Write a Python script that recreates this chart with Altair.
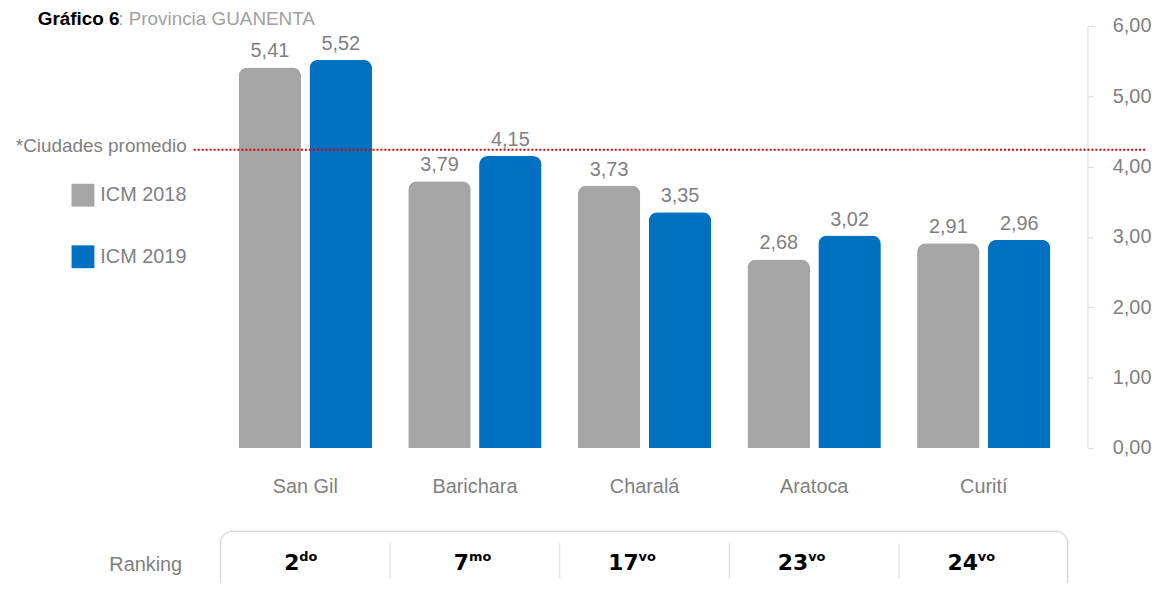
import altair as alt
import pandas as pd

# ---- data ----
categories = ["San Gil", "Barichara", "Charalá", "Aratoca", "Curití"]
icm_2018 = [5.41, 3.79, 3.73, 2.68, 2.91]
icm_2019 = [5.52, 4.15, 3.35, 3.02, 2.96]
series_names = ["ICM 2018", "ICM 2019"]
ranking_num = ["2", "7", "17", "23", "24"]
ranking_suf = ["do", "mo", "vo", "vo", "vo"]
promedio = 4.24
y_ticks = [0, 1, 2, 3, 4, 5, 6]

FONT = "Liberation Sans Narrow, Liberation Sans, Arial"
GRAY_TXT = "#7f7f7f"
COLORS = ["#a5a5a5", "#0070c0"]

rows = []
for c, a, b in zip(categories, icm_2018, icm_2019):
    rows.append({"category": c, "serie": series_names[0], "value": a})
    rows.append({"category": c, "serie": series_names[1], "value": b})
df = pd.DataFrame(rows)
rank_df = pd.DataFrame({"category": categories, "num": ranking_num, "suf": ranking_suf})
div_df = pd.DataFrame({"category": categories[1:]})
avg_df = pd.DataFrame({"value": [promedio], "label": ["*Ciudades promedio"]})
one = pd.DataFrame({"a": [0]})

x_scale = alt.Scale(domain=categories, range=[214, 1068], paddingInner=0, paddingOuter=0)
x_enc = alt.X("category:N", scale=x_scale,
              axis=alt.Axis(title=None, domain=False, ticks=False, labelAngle=0,
                            labelAlign="center", labelBaseline="top",
                            labelFontSize=20, labelFont=FONT, labelColor=GRAY_TXT,
                            labelPadding=29))
y_scale = alt.Scale(domain=[0, 6])
xoff = alt.XOffset("serie:N", scale=alt.Scale(domain=series_names, paddingInner=0, paddingOuter=0.197))

bars = alt.Chart(df).mark_bar(width=63, cornerRadiusTopLeft=9, cornerRadiusTopRight=9).encode(
    x=x_enc,
    xOffset=xoff,
    y=alt.Y("value:Q", scale=y_scale,
            axis=alt.Axis(orient="right", values=y_ticks, title=None, grid=False,
                          labelExpr="replace(format(datum.value, '.2f'), '.', ',')",
                          labelFontSize=20, labelFont=FONT, labelColor=GRAY_TXT,
                          domainColor="#d9d9d9", tickColor="#d9d9d9", tickSize=6,
                          labelPadding=19)),
    color=alt.Color("serie:N", scale=alt.Scale(domain=series_names, range=COLORS),
                    legend=alt.Legend(orient="none", legendX=64, legendY=159, title=None,
                                      symbolType="square", symbolSize=529, symbolStrokeWidth=0,
                                      symbolOpacity=1, labelFontSize=20, labelFont=FONT,
                                      labelColor=GRAY_TXT, rowPadding=39, labelOffset=6,
                                      padding=0)),
)

labels = alt.Chart(df).transform_calculate(
    txt="replace(format(datum.value, '.2f'), '.', ',')"
).mark_text(baseline="bottom", dy=-6, fontSize=20, font=FONT, color=GRAY_TXT).encode(
    x=alt.X("category:N", scale=x_scale),
    xOffset=xoff,
    y=alt.Y("value:Q", scale=y_scale),
    text="txt:N",
)

avg_line = alt.Chart(avg_df).mark_rule(color="#e00000", strokeDash=[2, 2], strokeWidth=2).encode(
    y=alt.Y("value:Q", scale=y_scale),
    x=alt.value(187),
    x2=alt.value(1147),
)
avg_text = alt.Chart(avg_df).mark_text(align="right", baseline="middle", dy=-4, fontSize=19,
                                       font=FONT, color=GRAY_TXT).encode(
    y=alt.Y("value:Q", scale=y_scale),
    x=alt.value(180),
    text="label:N",
)

box = alt.Chart(one).mark_rect(fill="white", fillOpacity=0, stroke="#d4d4d4", strokeWidth=1.2,
                               cornerRadius=12).encode(
    x=alt.value(214), x2=alt.value(1067), y=alt.value(509), y2=alt.value(600))
dividers = alt.Chart(div_df).mark_rule(color="#d9d9d9", strokeWidth=1).encode(
    x=alt.X("category:N", scale=x_scale, bandPosition=0),
    y=alt.value(521), y2=alt.value(557))
rank_num = alt.Chart(rank_df).mark_text(align="right", baseline="alphabetic", dx=-6, fontSize=22,
                                        font="DejaVu Sans", fontWeight="bold", color="black").encode(
    x=alt.X("category:N", scale=x_scale), y=alt.value(548), text="num:N")
rank_suf = alt.Chart(rank_df).mark_text(align="left", baseline="alphabetic", dx=-6, fontSize=13,
                                        font="DejaVu Sans", fontWeight="bold", color="black").encode(
    x=alt.X("category:N", scale=x_scale), y=alt.value(539), text="suf:N")
rank_label = alt.Chart(one).mark_text(align="left", baseline="middle", fontSize=20, font=FONT,
                                      color=GRAY_TXT).encode(
    x=alt.value(102), y=alt.value(543), text=alt.value("Ranking"))

title_a = alt.Chart(one).mark_text(align="left", baseline="alphabetic", fontSize=19, font=FONT,
                                   fontWeight="bold", color="black").encode(
    x=alt.value(30), y=alt.value(-1), text=alt.value("Gráfico 6"))
title_b = alt.Chart(one).mark_text(align="left", baseline="alphabetic", fontSize=19, font=FONT,
                                   color="#a0a0a0").encode(
    x=alt.value(111), y=alt.value(-1), text=alt.value(": Provincia GUANENTA"))

chart = alt.layer(
    box, dividers, bars, labels, avg_line, avg_text, rank_num, rank_suf, rank_label, title_a, title_b
).resolve_scale(x="shared", y="shared").properties(
    width=1087, height=425,
    autosize=alt.AutoSizeParams(type="none"),
    padding={"left": 0, "top": 16, "right": 68, "bottom": 134},
).configure_view(stroke=None)

chart.save("out.html", embed_options={"renderer": "svg", "actions": False})
